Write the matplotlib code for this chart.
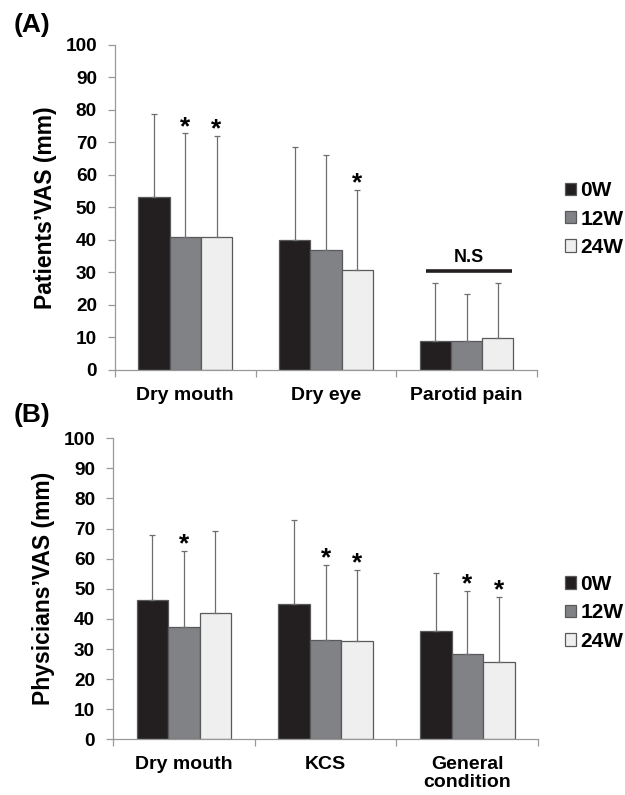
import numpy as np
import matplotlib.pyplot as plt
from matplotlib.patches import Patch

plt.rcParams['font.family'] = ['Liberation Sans', 'DejaVu Sans']
plt.rcParams['font.weight'] = 'bold'

groups = ['0W', '12W', '24W']
colors = ['#231f20', '#808285', '#efefef']

# Panel A: patients' VAS
cats_a = ['Dry mouth', 'Dry eye', 'Parotid pain']
mean_a = {'0W': [53.1, 40.0, 9.0], '12W': [40.8, 36.9, 8.8], '24W': [41.0, 30.8, 9.8]}
sd_a = {'0W': [25.7, 28.7, 17.9], '12W': [32.0, 29.3, 14.6], '24W': [31.0, 24.6, 16.9]}
stars_a = {'0W': [0, 0, 0], '12W': [1, 0, 0], '24W': [1, 1, 0]}

# Panel B: physicians' VAS
cats_b = ['Dry mouth', 'KCS', 'General\ncondition']
mean_b = {'0W': [46.3, 44.8, 35.9], '12W': [37.2, 33.0, 28.3], '24W': [41.9, 32.6, 25.7]}
sd_b = {'0W': [21.5, 28.0, 19.5], '12W': [25.5, 24.9, 21.1], '24W': [27.2, 23.6, 21.7]}
stars_b = {'0W': [0, 0, 0], '12W': [1, 1, 1], '24W': [0, 1, 1]}

W = 1 / 4.5


def draw_panel(ax, cats, means, sds, stars, ylabel, leg_y):
    x = np.arange(len(cats))
    for i, g in enumerate(groups):
        pos = x + (i - 1) * W
        ax.bar(pos, means[g], W, color=colors[i], edgecolor='#58595b', linewidth=0.9, zorder=2)
        ax.errorbar(pos, means[g], yerr=[np.zeros(len(cats)), sds[g]], fmt='none',
                    ecolor='#6d6e71', elinewidth=0.9, capsize=2.2, capthick=0.9, zorder=3)
        for j in range(len(cats)):
            if stars[g][j]:
                ax.annotate('*', (pos[j], means[g][j] + sds[g][j]), xytext=(0, -4),
                            textcoords='offset points', ha='center', va='bottom',
                            fontsize=19, fontweight='bold')
    ax.set_xlim(-0.5, len(cats) - 0.5)
    ax.set_ylim(0, 100)
    ax.set_yticks(np.arange(0, 101, 10))
    ax.set_xticks(x)
    ax.set_xticklabels(cats, fontsize=14, fontweight='bold', linespacing=1.1)
    ax.set_xticks(np.arange(-0.5, len(cats)), minor=True)
    ax.tick_params(axis='x', which='major', length=0, pad=12)
    ax.tick_params(axis='x', which='minor', length=5, color='#999999', width=0.9)
    ax.tick_params(axis='y', length=5, color='#999999', width=0.9, labelsize=13.7, pad=8)
    for lab in ax.get_yticklabels():
        lab.set_fontweight('bold')
    for s in ['top', 'right']:
        ax.spines[s].set_visible(False)
    for s in ['left', 'bottom']:
        ax.spines[s].set_color('#999999')
        ax.spines[s].set_linewidth(0.9)
    ax.set_ylabel(ylabel, fontsize=16.5, fontweight='bold', labelpad=6)
    handles = [Patch(facecolor=c, edgecolor='#58595b', linewidth=0.9) for c in colors]
    ax.legend(handles, groups, loc='center left', bbox_to_anchor=(0.887, leg_y),
              bbox_transform=ax.figure.transFigure, frameon=False, fontsize=15,
              handlelength=0.55, handleheight=0.55, handletextpad=0.2, labelspacing=0.45,
              borderpad=0)


fig = plt.figure(figsize=(6.25, 7.95), dpi=100)
ax_a = fig.add_axes([0.184, 0.5346, 0.675, 0.4088])
ax_b = fig.add_axes([0.181, 0.070, 0.680, 0.3787])

draw_panel(ax_a, cats_a, mean_a, sd_a, stars_a, 'Patients\u2019VAS (mm)', 0.7245)
draw_panel(ax_b, cats_b, mean_b, sd_b, stars_b, 'Physicians\u2019VAS (mm)', 0.229)

# N.S bracket over parotid pain
ax_a.plot([1.71, 2.32], [30.6, 30.6], color='#231f20', lw=2.6, solid_capstyle='butt', zorder=4)
ax_a.text(2.015, 32.0, 'N.S', ha='center', va='bottom', fontsize=13, fontweight='bold')

fig.text(0.022, 0.968, '(A)', fontsize=19, fontweight='bold', va='center')
fig.text(0.022, 0.478, '(B)', fontsize=19, fontweight='bold', va='center')

fig.savefig('out.png', dpi=100)
